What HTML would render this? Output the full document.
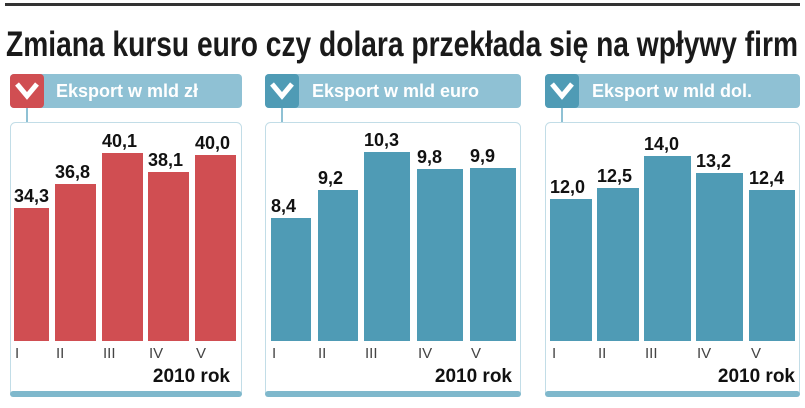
<!DOCTYPE html>
<html><head><meta charset="utf-8"><style>
html,body{margin:0;padding:0;background:#fff;width:805px;height:408px;overflow:hidden}
text{font-family:"Liberation Sans",sans-serif}
</style></head><body>
<svg width="805" height="408" xmlns="http://www.w3.org/2000/svg">
<rect x="5" y="3" width="795" height="3" fill="#333"/>
<text x="6" y="56" font-size="35" font-weight="bold" fill="#1a1a1a" textLength="792" lengthAdjust="spacingAndGlyphs">Zmiana kursu euro czy dolara przekłada się na wpływy firm</text>

<!-- Panel 1 -->
<g>
<rect x="10" y="74" width="232" height="34" rx="4" fill="#8fc1d4"/>
<rect x="10" y="74" width="34" height="34" rx="4" fill="#d04e52"/>
<path d="M17 84 L27 96 L37 84" stroke="#fff" stroke-width="5" fill="none"/>
<text x="56" y="97" font-size="18" font-weight="bold" fill="#fff">Eksport w mld zł</text>
<rect x="26" y="108" width="2" height="14" fill="#8fc1d4"/>
<rect x="10.5" y="122.5" width="231" height="274" rx="5" fill="#fff" stroke="#c2dde7"/>
<rect x="10" y="391" width="232" height="6" rx="3" fill="#7fb8cc"/>
<g fill="#d04e52">
<rect x="14" y="208" width="35" height="133"/>
<rect x="55" y="184" width="41" height="157"/>
<rect x="102" y="153" width="41" height="188"/>
<rect x="148" y="172" width="41" height="169"/>
<rect x="195" y="155" width="41" height="186"/>
</g>
<g font-size="18" font-weight="bold" fill="#111">
<text x="14" y="202">34,3</text><text x="55" y="178">36,8</text><text x="102" y="147">40,1</text><text x="148" y="166">38,1</text><text x="195" y="149">40,0</text>
</g>
<g font-size="15" fill="#444">
<text x="15" y="358">I</text><text x="56" y="358">II</text><text x="103" y="358">III</text><text x="149" y="358">IV</text><text x="196" y="358">V</text>
</g>
<text x="230" y="382" font-size="19" font-weight="bold" fill="#111" text-anchor="end">2010 rok</text>
</g>

<!-- Panel 2 -->
<g>
<rect x="265" y="74" width="256" height="34" rx="4" fill="#8fc1d4"/>
<rect x="265" y="74" width="34" height="34" rx="4" fill="#4f9bb5"/>
<path d="M272 84 L282 96 L292 84" stroke="#fff" stroke-width="5" fill="none"/>
<text x="312" y="97" font-size="18" font-weight="bold" fill="#fff">Eksport w mld euro</text>
<rect x="281" y="108" width="2" height="14" fill="#8fc1d4"/>
<rect x="265.5" y="122.5" width="255" height="274" rx="5" fill="#fff" stroke="#c2dde7"/>
<rect x="265" y="391" width="256" height="6" rx="3" fill="#7fb8cc"/>
<g fill="#4f9bb5">
<rect x="271" y="218" width="40" height="123"/>
<rect x="318" y="190" width="40" height="151"/>
<rect x="364" y="152" width="46" height="189"/>
<rect x="417" y="169" width="46" height="172"/>
<rect x="470" y="168" width="46" height="173"/>
</g>
<g font-size="18" font-weight="bold" fill="#111">
<text x="271" y="212">8,4</text><text x="318" y="184">9,2</text><text x="364" y="146">10,3</text><text x="417" y="163">9,8</text><text x="470" y="162">9,9</text>
</g>
<g font-size="15" fill="#444">
<text x="272" y="358">I</text><text x="318" y="358">II</text><text x="365" y="358">III</text><text x="418" y="358">IV</text><text x="471" y="358">V</text>
</g>
<text x="512" y="382" font-size="19" font-weight="bold" fill="#111" text-anchor="end">2010 rok</text>
</g>

<!-- Panel 3 -->
<g>
<rect x="545" y="74" width="255" height="34" rx="4" fill="#8fc1d4"/>
<rect x="545" y="74" width="34" height="34" rx="4" fill="#4f9bb5"/>
<path d="M552 84 L562 96 L572 84" stroke="#fff" stroke-width="5" fill="none"/>
<text x="592" y="97" font-size="18" font-weight="bold" fill="#fff">Eksport w mld dol.</text>
<rect x="561" y="108" width="2" height="14" fill="#8fc1d4"/>
<rect x="545.5" y="122.5" width="254" height="274" rx="5" fill="#fff" stroke="#c2dde7"/>
<rect x="545" y="391" width="255" height="6" rx="3" fill="#7fb8cc"/>
<g fill="#4f9bb5">
<rect x="550" y="199" width="42" height="142"/>
<rect x="597" y="188" width="42" height="153"/>
<rect x="644" y="156" width="47" height="185"/>
<rect x="696" y="173" width="47" height="168"/>
<rect x="749" y="190" width="46" height="151"/>
</g>
<g font-size="18" font-weight="bold" fill="#111">
<text x="550" y="193">12,0</text><text x="597" y="182">12,5</text><text x="644" y="150">14,0</text><text x="696" y="167">13,2</text><text x="749" y="184">12,4</text>
</g>
<g font-size="15" fill="#444">
<text x="552" y="358">I</text><text x="598" y="358">II</text><text x="645" y="358">III</text><text x="697" y="358">IV</text><text x="751" y="358">V</text>
</g>
<text x="795" y="382" font-size="19" font-weight="bold" fill="#111" text-anchor="end">2010 rok</text>
</g>
</svg>
</body></html>
